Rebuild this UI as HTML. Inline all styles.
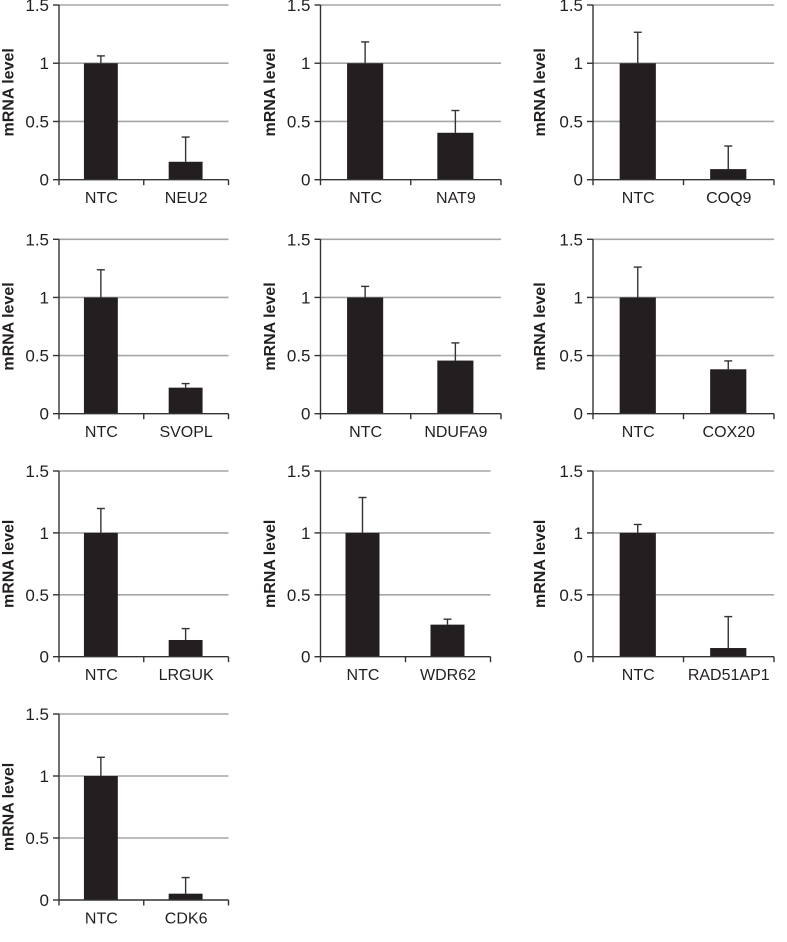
<!DOCTYPE html>
<html lang="en">
<head>
<meta charset="utf-8">
<title>mRNA level bar charts</title>
<style>
html,body{margin:0;padding:0;background:#fff;}
svg{display:block;font-family:"Liberation Sans",sans-serif;}
</style>
</head>
<body>
<svg id="figure" xmlns="http://www.w3.org/2000/svg" width="787" height="942" viewBox="0 0 787 942"></svg>
<script>
const genes = ['NEU2','NAT9','COQ9','SVOPL','NDUFA9','COX20','LRGUK','WDR62','RAD51AP1','CDK6'];
const controlLabel = 'NTC';
const controlValues = [1,1,1,1,1,1,1,1,1,1];
const controlErrors = [0.063,0.183,0.266,0.238,0.095,0.261,0.197,0.286,0.068,0.151];
const geneValues = [0.154,0.403,0.091,0.224,0.457,0.382,0.135,0.259,0.07,0.051];
const geneErrors = [0.212,0.191,0.198,0.035,0.152,0.072,0.092,0.044,0.254,0.13];
const yTicks = [0,0.5,1,1.5];
const yTickLabels = ['0','0.5','1','1.5'];
const yTitle = 'mRNA level';

// Panel frames are layout only: left, right, top and bottom edge of each plot.
const frameLefts   = [59,320.5,593, 59,320.5,593, 59,320.5,593, 59];
const frameRights  = [228.5,501,774, 228.5,501,774, 228.5,490.5,774, 228.5];
const frameTops    = [5,5,5, 239.3,239.3,239.3, 471,471,471, 714];
const frameBottoms = [179.7,179.7,179.7, 413.7,413.7,413.7, 656.7,656.7,656.7, 900];
const titleBaselines = [13.5,275,545, 13.5,275,545, 13.5,275,545, 13.5];

const svg = document.getElementById('figure');
const NS = 'http://www.w3.org/2000/svg';

function make(tag, parent, props, text) {
  const el = document.createElementNS(NS, tag);
  for (const key in props) el.setAttribute(key, props[key]);
  if (text !== undefined) el.textContent = text;
  parent.appendChild(el);
  return el;
}

function yScale(i, value) {
  const maxTick = yTicks[yTicks.length - 1];
  return frameBottoms[i] - (value / maxTick) * (frameBottoms[i] - frameTops[i]);
}

function bandWidth(i) {
  return (frameRights[i] - frameLefts[i]) / 2;
}

function xCenter(i, categoryIndex) {
  return frameLefts[i] + bandWidth(i) * (categoryIndex + 0.5) - 0.5;
}

function drawBar(group, i, categoryIndex, value, error) {
  const cx = xCenter(i, categoryIndex);
  const w = bandWidth(i) * 0.4;
  const yv = yScale(i, value);
  const ye = yScale(i, value + error);

  const bar = make('rect', group, {x: cx - w / 2, y: yv, width: w, height: frameBottoms[i] - yv, fill: '#231f20'});
  
  

  const stem = make('line', group, {x1: cx, x2: cx, y1: yv, y2: ye, stroke: '#333', 'stroke-width': 1.4});
  
  

  const cap = make('line', group, {x1: cx - 4, x2: cx + 4, y1: ye, y2: ye, stroke: '#333', 'stroke-width': 1.4});
  
  
}

genes.forEach(function (gene, i) {
  const L = frameLefts[i], R = frameRights[i], B = frameBottoms[i], T = frameTops[i];

  const panel = make('g', svg, {});
  
  

  yTicks.forEach(function (tick) {
    if (tick === 0) return;
    const y = yScale(i, tick);
    const grid = make('line', panel, {x1: L, x2: R, y1: y, y2: y, stroke: '#a6a6a6', 'stroke-width': 1.6});
    
    
  });

  drawBar(panel, i, 0, controlValues[i], controlErrors[i]);
  drawBar(panel, i, 1, geneValues[i], geneErrors[i]);

  const yAxis = make('line', panel, {x1: L, x2: L, y1: T, y2: B, stroke: '#333', 'stroke-width': 1.4});
  
  

  const xAxis = make('line', panel, {x1: L, x2: R, y1: B, y2: B, stroke: '#333', 'stroke-width': 1.4});
  
  

  yTicks.forEach(function (tick, t) {
    const y = yScale(i, tick);
    const mark = make('line', panel, {x1: L - 6, x2: L, y1: y, y2: y, stroke: '#333', 'stroke-width': 1.4});
    
    

    const label = make('text', panel, {x: L - 10, y: y + 6, 'text-anchor': 'end', 'font-size': 17, fill: '#231f20'}, yTickLabels[t]);
    
    
  });

  [0, 1, 2].forEach(function (k) {
    const x = L + bandWidth(i) * k;
    const mark = make('line', panel, {x1: x, x2: x, y1: B, y2: B + 5.5, stroke: '#333', 'stroke-width': 1.4});
    
    
  });

  [controlLabel, gene].forEach(function (name, c) {
    const label = make('text', panel, {x: xCenter(i, c) + 0.5, y: B + 23.5, 'text-anchor': 'middle', 'font-size': 16, fill: '#231f20'}, name);
    
    
  });

  const titleX = titleBaselines[i];
  const titleY = (T + B) / 2;
  const title = make('text', panel, {
    x: titleX, y: titleY, 'text-anchor': 'middle', 'font-size': 16, 'font-weight': 'bold', fill: '#231f20',
    transform: 'rotate(-90 ' + titleX + ' ' + titleY + ')'
  }, yTitle);
  
  
});
</script>
</body>
</html>
